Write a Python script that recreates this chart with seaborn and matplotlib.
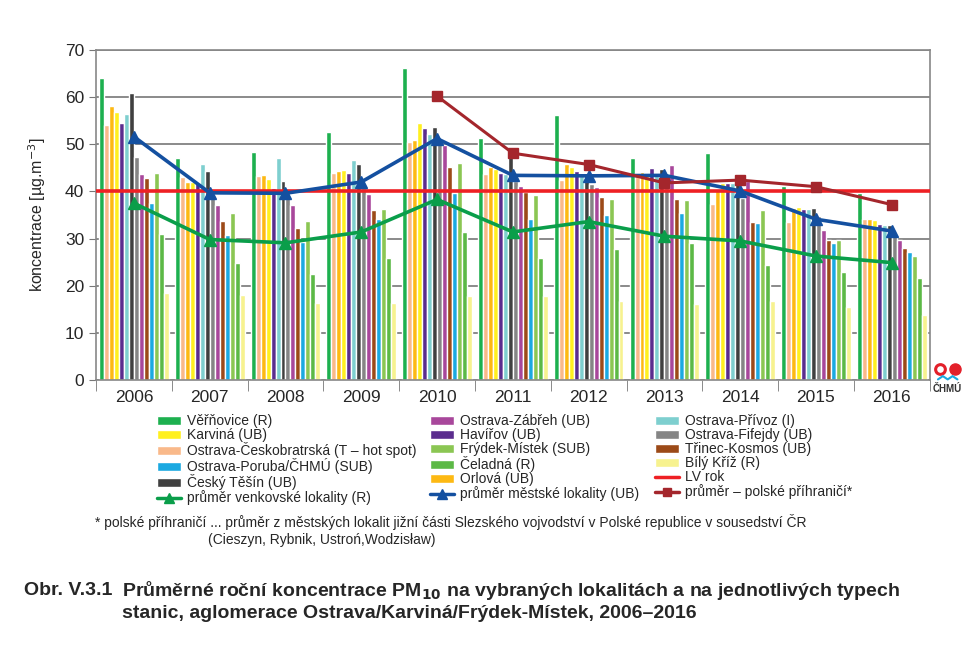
import numpy as np
import pandas as pd
import matplotlib
matplotlib.use("Agg")
import matplotlib.pyplot as plt
from matplotlib.lines import Line2D
from matplotlib.patches import Patch
import seaborn as sns

years = ["2006", "2007", "2008", "2009", "2010", "2011", "2012", "2013", "2014", "2015", "2016"]

# stations in drawing order within each year group
verenovice = [64.1, 47.0, 48.4, 52.6, 66.1, 51.3, 56.3, 47.0, 48.1, 41.1, 39.7]
ceskobratrska = [54.1, 43.0, 43.3, 43.8, 50.5, 43.6, 42.4, 43.8, 37.3, 33.6, 34.2]
orlova = [58.2, 42.0, 43.5, 44.3, 51.0, 45.2, 45.9, 44.1, 40.4, 36.5, 34.1]
karvina = [56.8, 42.1, 42.7, 44.5, 54.4, 44.7, 45.2, 43.6, 41.7, 36.7, 33.9]
havirov = [54.4, 41.8, 40.7, 43.8, 53.4, 44.0, 44.3, 45.0, 41.7, 36.2, 33.0]
privoz = [56.5, 45.9, 47.1, 46.6, 52.1, 43.6, 44.0, 43.6, 41.8, 36.2, 32.9]
cesky_tesin = [60.8, 44.3, 42.3, 45.9, 53.6, 48.0, 43.8, 44.8, 43.4, 36.5, 32.9]
fifejdy = [47.3, 39.0, 40.6, 40.7, 50.3, 42.2, 41.5, 40.8, 38.7, 34.8, 30.5]
zabreh = [43.6, 37.2, 37.2, 39.5, 49.8, 41.1, 41.0, 45.7, 42.2, 31.8, 29.6]
trinec = [42.8, 33.7, 32.2, 36.0, 45.1, 39.9, 38.9, 38.4, 33.6, 29.8, 28.1]
poruba = [37.6, 30.7, 29.3, 34.1, 39.7, 34.1, 35.1, 35.5, 33.4, 29.1, 27.2]
frydek = [43.9, 35.4, 33.7, 36.3, 46.0, 39.3, 38.3, 38.1, 36.0, 29.8, 26.4]
celadna = [30.9, 24.9, 22.4, 25.9, 31.4, 25.9, 27.8, 29.1, 24.3, 22.9, 21.6]
bily_kriz = [18.4, 18.1, 16.4, 16.3, 17.9, 17.9, 16.7, 16.1, 16.7, 15.5, 13.7]

avg_rural = [37.5, 29.8, 29.1, 31.4, 38.3, 31.4, 33.6, 30.5, 29.5, 26.3, 24.9]
avg_urban = [51.6, 39.7, 39.6, 42.0, 51.2, 43.4, 43.3, 43.4, 40.1, 34.1, 31.6]
polish_years = ["2010", "2011", "2012", "2013", "2014", "2015", "2016"]
avg_polish = [60.2, 48.1, 45.7, 41.8, 42.4, 41.0, 37.2]
limit_value = 40

stations = [
    ("Věřňovice (R)", verenovice, "#1db04f"),
    ("Ostrava-Českobratrská (T – hot spot)", ceskobratrska, "#f9b98a"),
    ("Orlová (UB)", orlova, "#fdb913"),
    ("Karviná (UB)", karvina, "#fff01f"),
    ("Havířov (UB)", havirov, "#5b2d8e"),
    ("Ostrava-Přívoz (I)", privoz, "#7ecfcf"),
    ("Český Těšín (UB)", cesky_tesin, "#404040"),
    ("Ostrava-Fifejdy (UB)", fifejdy, "#858585"),
    ("Ostrava-Zábřeh (UB)", zabreh, "#a8479b"),
    ("Třinec-Kosmos (UB)", trinec, "#9c4a18"),
    ("Ostrava-Poruba/ČHMÚ (SUB)", poruba, "#1ba9e1"),
    ("Frýdek-Místek (SUB)", frydek, "#8bc653"),
    ("Čeladná (R)", celadna, "#5cb946"),
    ("Bílý Kříž (R)", bily_kriz, "#f7f28f"),
]

rows = []
for name, vals, _ in stations:
    for y, v in zip(years, vals):
        rows.append({"rok": y, "stanice": name, "hodnota": v})
df = pd.DataFrame(rows)
palette = {name: c for name, _, c in stations}

sns.set_style("white")
plt.rcParams["font.family"] = ["Liberation Sans", "DejaVu Sans"]

fig = plt.figure(figsize=(9.75, 6.61), dpi=100)
ax = fig.add_axes([0.0985, 0.425, 0.855, 0.4995])

sns.barplot(data=df, x="rok", y="hodnota", hue="stanice", order=years,
            hue_order=[s[0] for s in stations], palette=palette,
            width=0.92, gap=0, saturation=1, legend=False, ax=ax, zorder=2)

xi = np.arange(len(years))
ax.axhline(limit_value, color="#ee2024", lw=2.6, zorder=3)
ax.plot(xi, avg_rural, color="#0a9e4a", lw=2.6, marker="^", ms=9, zorder=4)
ax.plot(xi, avg_urban, color="#1450a0", lw=2.6, marker="^", ms=9, zorder=4)
px = [years.index(y) for y in polish_years]
ax.plot(px, avg_polish, color="#a4262c", lw=2.2, marker="s", ms=7, zorder=5)

ax.set_ylim(0, 70)
ax.set_xlim(-0.5, len(years) - 0.5)
ax.set_yticks(range(0, 71, 10))
ax.yaxis.grid(True, color="#777777", lw=1.2, zorder=0)
ax.set_axisbelow(True)
ax.set_xlabel("")
ax.set_ylabel("koncentrace [µg.m$^{-3}$]", fontsize=11.5, labelpad=12)
ax.tick_params(axis="y", labelsize=12.5, length=5, color="#777777", left=True)
ax.set_xticks(xi)
ax.set_xticklabels(years, fontsize=12.5)
ax.tick_params(axis="x", length=0, pad=7)
ax.set_xticks(np.arange(-0.5, len(years) + 0.5, 1), minor=True)
ax.tick_params(axis="x", which="minor", length=8, color="#777777", bottom=True)
for s in ax.spines.values():
    s.set_color("#888888")
    s.set_linewidth(1.2)

# legend, filled column by column to match the row layout
def patch(i):
    name, _, c = stations[i]
    return Patch(facecolor=c, label=name)

idx = {s[0]: i for i, s in enumerate(stations)}
col1 = [patch(idx["Věřňovice (R)"]), patch(idx["Karviná (UB)"]),
        patch(idx["Ostrava-Českobratrská (T – hot spot)"]),
        patch(idx["Ostrava-Poruba/ČHMÚ (SUB)"]), patch(idx["Český Těšín (UB)"]),
        Line2D([], [], color="#0a9e4a", lw=2.5, marker="^", ms=7,
               label="průměr venkovské lokality (R)")]
col2 = [patch(idx["Ostrava-Zábřeh (UB)"]), patch(idx["Havířov (UB)"]),
        patch(idx["Frýdek-Místek (SUB)"]), patch(idx["Čeladná (R)"]),
        patch(idx["Orlová (UB)"]),
        Line2D([], [], color="#1450a0", lw=2.5, marker="^", ms=7,
               label="průměr městské lokality (UB)")]
col3 = [patch(idx["Ostrava-Přívoz (I)"]), patch(idx["Ostrava-Fifejdy (UB)"]),
        patch(idx["Třinec-Kosmos (UB)"]), patch(idx["Bílý Kříž (R)"]),
        Line2D([], [], color="#ee2024", lw=2.5, label="LV rok"),
        Line2D([], [], color="#a4262c", lw=2.5, marker="s", ms=6,
               label="průměr – polské příhraničí*")]
for handles, x0 in [(col1, 0.161), (col2, 0.441), (col3, 0.672)]:
    fig.legend(handles=handles, loc="upper left", bbox_to_anchor=(x0, 0.373),
               frameon=False, fontsize=10, handlelength=1.7, handleheight=0.65,
               handletextpad=0.45, labelspacing=0.0, borderpad=0, borderaxespad=0)

fig.text(0.097, 0.21, "* polské příhraničí ... průměr z městských lokalit jižní části "
         "Slezského vojvodství v Polské republice v sousedství ČR",
         fontsize=10, va="center")
fig.text(0.213, 0.183, "(Cieszyn, Rybnik, Ustroń,Wodzisław)", fontsize=10, va="center")

fig.text(0.025, 0.106, "Obr. V.3.1", fontsize=14, fontweight="bold", va="center")
fig.text(0.125, 0.106, r"Průměrné roční koncentrace PM$_{\mathbf{10}}$ na vybraných "
         "lokalitách a na jednotlivých typech",
         fontsize=14, fontweight="bold", va="center")
fig.text(0.125, 0.072, "stanic, aglomerace Ostrava/Karviná/Frýdek-Místek, 2006–2016",
         fontsize=14, fontweight="bold", va="center")

# small ČHMÚ logo
fig.add_artist(Line2D([0.9645], [0.441], marker="o", ms=7, mfc="white", mec="#e3202a",
                      mew=2.2, transform=fig.transFigure))
fig.add_artist(Line2D([0.9795], [0.441], marker="o", ms=8, color="#e3202a",
                      transform=fig.transFigure))
fig.add_artist(Line2D([0.962, 0.967, 0.972, 0.977, 0.982], [0.426, 0.431, 0.426, 0.431, 0.426],
                      color="#1ba9e1", lw=1.5, transform=fig.transFigure))
fig.text(0.972, 0.412, "ČHMÚ", color="#333333", fontsize=7, fontweight="bold",
         ha="center", va="center")

fig.savefig("out.png", dpi=100)
plt.close(fig)
